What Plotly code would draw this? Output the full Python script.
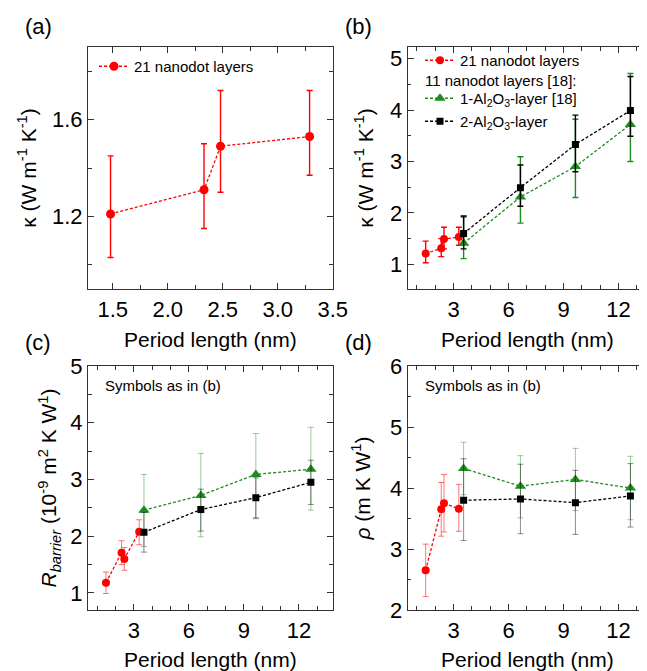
import plotly.graph_objects as go

# ---------------- data ----------------
red_x = [1.48, 2.33, 2.48, 3.29]
al_x = [3.55, 6.65, 9.65, 12.65]

# (a)/(b) thermal conductivity kappa
red_kappa = [1.21, 1.31, 1.49, 1.53]
red_kappa_up = [0.24, 0.19, 0.23, 0.19]
red_kappa_dn = [0.18, 0.16, 0.19, 0.16]
green_kappa = [1.41, 2.31, 2.90, 3.72]
green_kappa_up = [0.51, 0.78, 0.92, 0.99]
green_kappa_dn = [0.30, 0.51, 0.60, 0.72]
black_kappa = [1.60, 2.49, 3.33, 3.99]
black_kappa_up = [0.34, 0.44, 0.57, 0.66]
black_kappa_dn = [0.30, 0.36, 0.53, 0.50]

# (c) R_barrier
red_R = [1.18, 1.71, 1.60, 2.08]
red_R_up = [0.19, 0.21, 0.20, 0.21]
red_R_dn = [0.19, 0.21, 0.20, 0.23]
green_R = [2.46, 2.72, 3.09, 3.18]
green_R_up = [0.63, 0.74, 0.72, 0.74]
green_R_dn = [0.64, 0.73, 0.76, 0.72]
black_R = [2.07, 2.47, 2.68, 2.95]
black_R_up = [0.35, 0.36, 0.35, 0.39]
black_R_dn = [0.35, 0.38, 0.37, 0.39]

# (d) rho
red_rho = [2.65, 3.65, 3.75, 3.66]
red_rho_up = [0.43, 0.44, 0.47, 0.40]
red_rho_dn = [0.43, 0.44, 0.47, 0.37]
green_rho = [4.32, 4.03, 4.14, 4.00]
green_rho_up = [0.43, 0.50, 0.51, 0.52]
green_rho_dn = [0.43, 0.52, 0.51, 0.52]
black_rho = [3.80, 3.82, 3.76, 3.87]
black_rho_up = [0.68, 0.57, 0.53, 0.53]
black_rho_dn = [0.66, 0.57, 0.52, 0.51]

# ---------------- styling ----------------
FONT = "Liberation Sans, Arial, sans-serif"
RED = "#ff0000"
GREEN = "#1e8c1e"
BLACK = "#000000"
RED_T = "rgba(255,0,0,0.55)"
GREEN_T = "rgba(30,140,30,0.45)"
BLACK_T = "rgba(0,0,0,0.45)"

OFF = 8                      # page body margin in the browser
W, H = 647 - OFF, 671 - OFF  # figure size
ML, MR, MT, MB = 80, 0, 39, 61
PW, PH = W - ML - MR, H - MT - MB


def px(xs):  # screen x -> paper x
    return (xs - OFF - ML) / PW


def py(ys):  # screen y -> paper y
    return (H - MB - (ys - OFF)) / PH


fig = go.Figure()


def add(xa, ya, x, y, up, dn, color, symbol, size, name="", err_color=None,
        err_thick=1.4, legend=None, showlegend=False):
    fig.add_trace(go.Scatter(
        x=x, y=y, xaxis=xa, yaxis=ya, mode="lines+markers", name=name,
        line=dict(color=color, width=1.3, dash="3px,2px"),
        marker=dict(color=color, symbol=symbol, size=size),
        error_y=dict(type="data", symmetric=False, array=up, arrayminus=dn,
                     color=err_color or color, thickness=err_thick, width=3),
        showlegend=showlegend, legend=legend))


# (a)
add("x", "y", red_x, red_kappa, red_kappa_up, red_kappa_dn, RED, "circle", 9,
    "21 nanodot layers", legend="legend", showlegend=True)
# (b)
add("x2", "y2", red_x, red_kappa, red_kappa_up, red_kappa_dn, RED, "circle", 8,
    "21 nanodot layers", legend="legend2", showlegend=True)
add("x2", "y2", al_x, green_kappa, green_kappa_up, green_kappa_dn, GREEN, "triangle-up", 10,
    "1-Al<sub>2</sub>O<sub>3</sub>-layer [18]", legend="legend3", showlegend=True)
add("x2", "y2", al_x, black_kappa, black_kappa_up, black_kappa_dn, BLACK, "square", 7,
    "2-Al<sub>2</sub>O<sub>3</sub>-layer", legend="legend4", showlegend=True)
# (c)
add("x3", "y3", red_x, red_R, red_R_up, red_R_dn, RED, "circle", 8, err_color=RED_T, err_thick=1)
add("x3", "y3", al_x, green_R, green_R_up, green_R_dn, GREEN, "triangle-up", 10, err_color=GREEN_T, err_thick=1)
add("x3", "y3", al_x, black_R, black_R_up, black_R_dn, BLACK, "square", 7, err_color=BLACK_T, err_thick=1)
# (d)
add("x4", "y4", red_x, red_rho, red_rho_up, red_rho_dn, RED, "circle", 8, err_color=RED_T, err_thick=1)
add("x4", "y4", al_x, green_rho, green_rho_up, green_rho_dn, GREEN, "triangle-up", 10, err_color=GREEN_T, err_thick=1)
add("x4", "y4", al_x, black_rho, black_rho_up, black_rho_dn, BLACK, "square", 7, err_color=BLACK_T, err_thick=1)

AX = "#333333"


def axis(domain, rng, tick0, dtick, mdtick, fmt, anchor, title, standoff):
    return dict(
        domain=domain, range=rng, tick0=tick0, dtick=dtick, tickformat=fmt,
        anchor=anchor, showline=True, linecolor=AX, linewidth=1.2, mirror="ticks",
        ticks="inside", ticklen=6, tickwidth=1, tickcolor=AX, showgrid=False,
        zeroline=False, ticklabelstandoff=0, automargin=False,
        tickfont=dict(size=22, color="black", family=FONT),
        minor=dict(ticks="inside", ticklen=3.5, tickwidth=1, tickcolor=AX,
                   dtick=mdtick, tick0=tick0, showgrid=False),
        title=dict(text=title, font=dict(size=21, color="black", family=FONT),
                   standoff=standoff),
    )


XA = [0, px(332.7)]
XB = [px(407.7), 1]
YT = [py(289), 1]
YB = [0, py(366)]
xt = "Period length (nm)"

LEG = dict(xanchor="left", yanchor="top", bgcolor="rgba(0,0,0,0)", borderwidth=0,
           font=dict(size=15, family=FONT, color="black"))

fig.update_layout(
    width=W, height=H,
    margin=dict(l=ML, r=MR, t=MT, b=MB),
    paper_bgcolor="white", plot_bgcolor="white",
    font=dict(family=FONT, color="black"),
    xaxis=axis(XA, [1.275, 3.5], 1.5, 0.5, 0.25, ".1f", "y", xt, 11),
    yaxis=axis(YT, [0.9, 1.9], 1.2, 0.4, 0.2, ".1f", "x",
               "κ (W m<sup>-1</sup> K<sup>-1</sup>)", 9),
    xaxis2=axis(XB, [0.5, 13.555], 0, 3, 1, "d", "y2", xt, 11),
    yaxis2=axis(YT, [0.52, 5.225], 0, 1, 0.5, "d", "x2",
                "κ (W m<sup>-1</sup> K<sup>-1</sup>)", 10),
    xaxis3=axis(XA, [0.5, 13.84], 0, 3, 1, "d", "y3", xt, 11),
    yaxis3=axis(YB, [0.7, 5.0], 0, 1, 0.5, "d", "x3",
                "<i>R</i><sub><i>barrier</i></sub> (10<sup>-9</sup> m<sup>2</sup> K W<sup>1</sup>)", 7),
    xaxis4=axis(XB, [0.5, 13.555], 0, 3, 1, "d", "y4", xt, 11),
    yaxis4=axis(YB, [2.0, 6.0], 0, 1, 0.5, "d", "x4",
                "<i>ρ</i> (m K W<sup>1</sup>)", 13),
    legend=dict(x=px(94), y=py(66 - 16), **LEG),
    legend2=dict(x=px(420), y=py(60 - 16), **LEG),
    legend3=dict(x=px(420), y=py(98 - 16), **LEG),
    legend4=dict(x=px(420), y=py(121 - 16), **LEG),
)

ann = []
for label, xs, ys in [("(a)", 38, 26), ("(b)", 358, 26), ("(c)", 38, 342), ("(d)", 358, 342)]:
    ann.append(dict(text=label, x=px(xs), y=py(ys), xref="paper", yref="paper",
                    xanchor="center", yanchor="middle", showarrow=False,
                    font=dict(size=22, family=FONT, color="black")))
for xs in (103, 423):
    ann.append(dict(text="Symbols as in (b)", x=px(xs), y=py(385), xref="paper", yref="paper",
                    xanchor="left", yanchor="middle", showarrow=False,
                    font=dict(size=15, family=FONT, color="black")))
ann.append(dict(text="11 nanodot layers [18]:", x=px(423), y=py(80.7), xref="paper", yref="paper",
                xanchor="left", yanchor="middle", showarrow=False,
                font=dict(size=15, family=FONT, color="black")))
fig.update_layout(annotations=ann)

fig.write_html("out.html")
